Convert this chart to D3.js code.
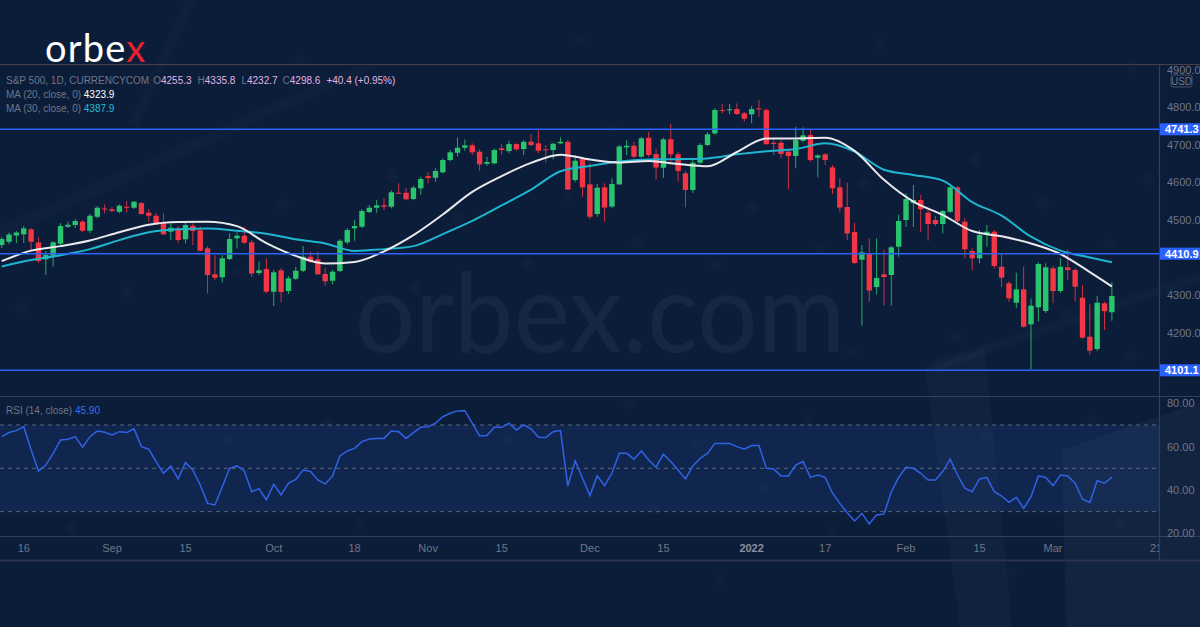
<!DOCTYPE html>
<html><head><meta charset="utf-8">
<script src="https://cdn.jsdelivr.net/npm/d3@7"></script>
<style>
html,body{margin:0;padding:0;background:#0b1d39;overflow:hidden;}
svg{display:block;}
</style></head>
<body><svg id="c" width="1200" height="627"></svg>
<script>
// ---------- DATA ----------
const opens = [4433.9,4442.6,4459.1,4462.3,4475.6,4440.5,4395.9,4405.5,4437.3,4482.5,4487.0,4495.8,4471.9,4509.0,4530.8,4528.7,4522.3,4535.6,4532.9,4545.4,
4519.7,4511.7,4493.1,4469.2,4478.2,4449.0,4485.1,4472.9,4425.1,4356.1,4348.1,4396.7,4451.7,4458.6,4441.1,4359.5,4370.1,4309.8,4366.7,4311.7,
4344.4,4365.6,4402.8,4395.9,4356.9,4339.1,4364.8,4441.1,4478.2,4482.5,4521.5,4532.9,4539.3,4535.6,4572.8,4572.8,4556.1,4584.5,4617.1,4612.6,
4627.0,4659.6,4679.0,4692.3,4698.7,4681.7,4649.8,4650.9,4690.7,4683.5,4702.1,4688.9,4708.2,4704.0,4688.1,4686.2,4704.0,4708.2,4606.5,4662.3,
4595.1,4516.2,4587.1,4536.1,4595.1,4693.4,4697.6,4668.4,4718.9,4675.6,4639.2,4714.9,4674.8,4624.3,4580.0,4652.5,4699.5,4730.6,4792.4,4791.6,
4795.1,4783.7,4781.0,4797.0,4792.4,4705.6,4705.6,4681.7,4670.3,4710.9,4726.0,4665.7,4674.8,4640.2,4587.1,4534.8,4468.4,4394.8,4410.0,4322.3,
4356.1,4354.2,4429.4,4500.3,4545.4,4553.4,4519.7,4500.3,4489.7,4522.3,4587.1,4495.8,4417.9,4398.6,4460.4,4469.2,4376.2,4332.2,4280.6,4316.2,
4223.3,4268.4,4258.6,4372.0,4311.7,4374.7,4367.5,4293.9,4190.3,4157.7,4279.0,4255.3];
const highs = [4455.1,4467.1,4471.1,4484.3,4479.0,4455.1,4417.9,4444.5,4492.3,4495.8,4502.9,4500.3,4516.2,4537.5,4542.0,4534.8,4542.0,4550.7,4550.7,4548.1,
4529.5,4518.1,4518.1,4491.5,4484.3,4492.3,4491.5,4482.5,4431.2,4407.3,4407.3,4465.0,4467.6,4482.5,4447.2,4389.5,4398.6,4367.5,4372.8,4351.5,
4376.2,4431.2,4416.1,4416.1,4373.6,4367.5,4449.8,4479.0,4500.3,4529.5,4540.1,4553.4,4557.9,4579.2,4597.8,4584.5,4590.6,4615.3,4627.0,4637.6,
4664.2,4686.2,4719.9,4714.6,4704.0,4688.1,4668.4,4690.7,4702.1,4710.9,4704.0,4712.8,4728.7,4741.2,4699.5,4705.6,4719.9,4712.8,4672.9,4667.6,
4652.5,4595.9,4597.8,4611.0,4699.5,4712.0,4708.2,4721.5,4734.8,4689.4,4718.9,4755.8,4681.7,4630.4,4659.6,4704.8,4734.0,4797.8,4808.4,4808.4,
4810.2,4787.1,4803.1,4819.0,4797.8,4717.3,4712.8,4686.2,4748.1,4746.5,4739.3,4674.3,4678.2,4646.4,4611.0,4599.3,4493.1,4433.9,4451.7,4451.7,
4420.6,4431.2,4514.4,4571.2,4593.2,4566.7,4526.8,4510.9,4526.8,4590.6,4590.6,4505.6,4425.9,4473.7,4487.0,4473.7,4411.8,4338.3,4360.3,4376.2,
4292.3,4387.9,4385.3,4378.1,4398.6,4422.5,4372.8,4327.6,4277.2,4299.2,4283.3,4335.8];
const lows = [4425.9,4436.5,4439.2,4439.2,4420.6,4386.1,4354.2,4376.2,4433.9,4479.0,4479.0,4468.4,4465.0,4504.8,4518.1,4521.5,4518.1,4520.7,4529.5,4514.9,
4495.8,4487.0,4460.4,4447.2,4438.4,4438.4,4433.9,4417.9,4305.6,4340.9,4334.8,4394.0,4425.1,4436.5,4348.9,4354.2,4305.6,4271.9,4281.7,4303.7,
4340.9,4362.2,4386.1,4354.2,4325.8,4329.5,4362.2,4436.5,4445.3,4479.0,4518.1,4519.7,4526.8,4531.4,4570.1,4553.4,4553.4,4566.7,4597.8,4602.0,
4624.3,4656.2,4668.4,4684.3,4672.9,4631.2,4644.5,4648.2,4672.9,4677.4,4684.3,4672.9,4696.8,4677.4,4653.5,4661.5,4702.1,4580.0,4601.2,4562.2,
4502.1,4509.0,4495.8,4531.4,4593.2,4672.9,4664.2,4664.2,4668.4,4608.4,4612.6,4655.1,4602.5,4534.0,4572.0,4649.0,4696.8,4726.0,4783.7,4781.8,
4779.2,4761.4,4757.1,4774.6,4699.5,4672.9,4664.2,4581.8,4637.6,4706.7,4655.1,4613.7,4646.4,4569.3,4522.3,4447.2,4383.4,4219.5,4283.8,4302.4,
4273.2,4273.2,4402.8,4481.7,4481.7,4469.2,4445.3,4484.3,4465.0,4518.9,4487.0,4398.6,4367.5,4385.3,4429.4,4372.0,4323.1,4283.3,4265.8,4214.8,
4103.7,4230.2,4253.3,4279.0,4306.4,4340.9,4283.3,4185.5,4141.7,4152.3,4208.1,4232.7];
const closes = [4449.8,4461.8,4467.1,4478.2,4442.6,4391.4,4407.3,4441.1,4484.3,4487.8,4497.6,4471.9,4511.7,4532.9,4528.2,4524.2,4538.3,4532.9,4548.9,4516.2,
4511.7,4489.7,4462.3,4479.8,4447.2,4487.0,4471.1,4418.7,4354.2,4347.0,4398.6,4449.8,4458.6,4440.0,4358.2,4366.7,4309.8,4361.4,4309.0,4345.4,
4365.6,4402.8,4389.5,4356.1,4337.5,4363.0,4445.3,4473.7,4484.3,4524.2,4532.9,4539.3,4535.6,4573.9,4571.2,4555.3,4586.1,4609.2,4611.8,4630.4,
4659.6,4680.1,4692.3,4698.7,4680.1,4648.2,4654.3,4686.2,4686.2,4702.1,4688.1,4708.2,4699.5,4684.3,4685.4,4702.9,4708.2,4581.3,4657.8,4587.1,
4509.0,4586.1,4533.5,4595.9,4695.5,4697.6,4668.4,4717.3,4672.9,4639.7,4714.6,4675.0,4630.4,4580.0,4652.5,4699.5,4727.9,4792.4,4789.8,4794.3,
4781.8,4769.3,4795.1,4794.3,4702.1,4702.1,4675.6,4670.3,4712.8,4725.2,4659.6,4672.1,4659.6,4584.5,4533.5,4464.4,4386.1,4414.5,4313.0,4346.2,
4348.9,4427.8,4497.6,4556.1,4553.4,4528.7,4489.7,4489.7,4524.2,4587.1,4497.6,4422.5,4398.6,4460.4,4469.2,4378.1,4347.0,4292.3,4316.2,4216.9,
4272.7,4383.4,4374.7,4311.7,4376.2,4367.5,4323.1,4187.7,4153.1,4280.6,4258.2,4298.6];
const rsi = [64.6,66.5,67.4,69.2,58.5,48.8,51.5,56.9,63.1,63.4,64.6,59.7,64.6,67.2,66.6,65.4,66.9,66.5,68.2,60.0,
58.8,53.1,47.7,51.1,45.1,52.6,49.2,42.3,33.8,33.1,41.5,50.0,51.1,48.8,39.2,40.6,35.4,42.6,37.7,43.1,
44.9,49.2,48.5,44.6,42.8,46.5,55.7,58.0,59.2,62.3,63.5,63.8,63.8,67.2,66.9,63.8,66.5,68.9,69.2,70.8,
73.8,75.4,76.5,76.6,70.8,64.9,65.1,68.9,68.9,70.8,67.7,70.0,68.2,64.3,64.2,66.9,67.4,41.8,53.4,45.4,
37.4,46.5,42.0,47.7,56.9,56.9,54.2,58.0,53.8,50.5,56.5,53.1,49.2,45.1,51.1,54.6,56.9,61.5,61.5,61.5,
60.0,58.8,60.5,60.5,50.0,49.7,46.5,46.5,51.5,53.1,45.8,46.9,45.8,38.5,33.8,29.5,25.7,29.2,24.3,28.5,
28.9,39.2,45.8,50.5,50.0,47.7,44.6,44.6,48.5,54.2,46.9,40.8,39.2,45.1,45.8,39.2,37.2,34.3,36.6,31.5,
36.9,46.5,45.8,42.0,46.9,46.5,43.1,35.7,34.2,44.3,43.1,45.9];
const maIdx = [0,4,8,12,16,20,24,28,32,36,40,44,48,52,56,60,64,68,72,76,80,84,88,92,96,100,104,108,112,116,120,124,128,132,136,140,144,148,151];
const ma20 = [4391,4419,4431,4446,4468,4488,4495,4496,4484,4439,4405,4385,4389,4417,4460,4515,4575,4617,4652,4674,4661,4653,4657,4649,4643,4681,4717,4717,4719,4684,4607,4549,4514,4471,4457,4438,4410,4362,4323.9];
const ma30 = [4377,4394,4407,4423,4447,4468,4476,4478,4472,4464,4449,4438,4418,4423,4431,4463,4498,4539,4581,4630,4644,4656,4661,4662,4664,4675,4683,4689,4704,4682,4634,4620,4605,4548,4512,4456,4419,4401,4387.9];
const levels = [4741.3, 4410.9, 4101.1];
const priceTicks = [4200,4300,4400,4500,4600,4700,4800,4900];
const rsiTicks = [20,40,60,80];
const rsiBand = [70,30];
const rsiDashes = [70,50,30];
const xTickIdx = [3,15,25,37,48,58,68,80,90,102,112,123,133,143,157];
const xTickLabels = ["16","Sep","15","Oct","18","Nov","15","Dec","15","2022","17","Feb","15","Mar","21"];
const header = {sym:"S&P 500, 1D, CURRENCYCOM", o:"4255.3", h:"4335.8", l:"4232.7", c:"4298.6", chg:"+40.4 (+0.95%)"};

// ---------- LAYOUT ----------
const W = 1200, H = 627, paneR = 1159, mainTop = 64, mainBot = 396, rsiBot = 536, axisBot = 560;
const BG = "#0b1d39", UP = "#2bc46e", DN = "#f23645", GRAYTXT = "#6f7689", LINE = "#343e56", PINK = "#e3b3e2";
const FONT = "'Liberation Sans', Arial, sans-serif";

const svg = d3.select("#c");
svg.append("rect").attr("width", W).attr("height", H).attr("fill", BG);

// decorative background shapes
const deco = svg.append("g");
deco.append("polygon").attr("points", "925,368 985,348 1012,627 960,627").attr("fill", "#ffffff").attr("opacity", 0.025);
deco.append("polygon").attr("points", "1062,450 1200,402 1200,627 1066,627").attr("fill", "#ffffff").attr("opacity", 0.03);
deco.append("polygon").attr("points", "930,362 1200,272 1200,282 934,372").attr("fill", "#ffffff").attr("opacity", 0.02);
deco.append("polygon").attr("points", "0,226 360,64 385,64 0,240").attr("fill", "#ffffff").attr("opacity", 0.015);
deco.append("polygon").attr("points", "128,125 186,0 196,0 138,125").attr("fill", "#ffffff").attr("opacity", 0.015);
const diamonds = [[392,177],[458,218],[527,263],[415,288],[568,198],[613,128],[753,207],[715,265],[638,242],[820,248],[863,183],[975,160],[1042,202],[1110,245],[1067,312],[955,337],[850,352],[1130,357],[238,272],[127,293],[22,308],[282,205],[1150,178],[1132,67],[46,420],[226,440],[509,440],[71,528],[360,525],[398,469],[329,423],[629,402],[807,418],[698,443],[765,487],[985,438],[654,510],[832,530],[1120,525],[720,578],[1010,573],[1092,422],[580,40],[300,60],[880,45]];
deco.selectAll("rect.dm").data(diamonds).join("rect").attr("class","dm")
  .attr("x", -5).attr("y", -5).attr("width", 10).attr("height", 10)
  .attr("transform", d => `translate(${d[0]},${d[1]}) rotate(45)`)
  .attr("fill", "#ffffff").attr("opacity", 0.016);

// watermark
svg.append("text").attr("x", 355).attr("y", 352)
  .attr("font-family", "Lato, 'Open Sans', sans-serif").attr("font-size", 110).attr("font-weight", 400)
  .attr("textLength", 490).attr("lengthAdjust", "spacingAndGlyphs").attr("fill", "#ffffff").attr("opacity", 0.045)
  .text("orbex.com");

// logo
const logo = svg.append("text").attr("x", 45).attr("y", 62)
  .attr("font-family", "Lato, 'Open Sans', sans-serif").attr("font-size", 38).attr("font-weight", 400)
  .attr("letter-spacing", 1.2).attr("fill", "#ffffff");
logo.append("tspan").text("orbe");
logo.append("tspan").text("x").attr("fill", "#e8222e");

// ---------- SCALES ----------
const x = d3.scaleLinear().domain([0, 157]).range([1.7, 1156.0]);
const y = d3.scaleLinear().domain([4101.1, 4741.3]).range([370.3, 129.3]);
const yr = d3.scaleLinear().domain([20, 80]).range([533.3, 403.3]);
const bw = 5.4;

// clip paths
const defs = svg.append("defs");
defs.append("clipPath").attr("id", "clipMain").append("rect").attr("x", 0).attr("y", mainTop).attr("width", paneR).attr("height", mainBot - mainTop);
defs.append("clipPath").attr("id", "clipRsi").append("rect").attr("x", 0).attr("y", mainBot).attr("width", paneR).attr("height", rsiBot - mainBot);
defs.append("clipPath").attr("id", "clipAxis").append("rect").attr("x", 0).attr("y", rsiBot).attr("width", paneR).attr("height", axisBot - rsiBot);

// pane borders
svg.append("line").attr("x1", 0).attr("x2", W).attr("y1", mainTop + 0.5).attr("y2", mainTop + 0.5).attr("stroke", "#4a3f44").attr("stroke-width", 1);
svg.append("line").attr("x1", 0).attr("x2", W).attr("y1", mainBot + 0.5).attr("y2", mainBot + 0.5).attr("stroke", LINE).attr("stroke-width", 1.2);
svg.append("line").attr("x1", 0).attr("x2", W).attr("y1", rsiBot + 0.5).attr("y2", rsiBot + 0.5).attr("stroke", LINE).attr("stroke-width", 1.2);
svg.append("line").attr("x1", 0).attr("x2", W).attr("y1", axisBot + 0.5).attr("y2", axisBot + 0.5).attr("stroke", "#2a334a").attr("stroke-width", 2);
svg.append("line").attr("x1", paneR + 0.5).attr("x2", paneR + 0.5).attr("y1", mainTop).attr("y2", axisBot).attr("stroke", LINE).attr("stroke-width", 1.2);

// ---------- MAIN PANE ----------
const main = svg.append("g").attr("clip-path", "url(#clipMain)");
const idx = d3.range(closes.length);

// candles
const cg = main.append("g");
cg.selectAll("line.wick").data(idx).join("line").attr("class", "wick")
  .attr("x1", i => x(i)).attr("x2", i => x(i))
  .attr("y1", i => y(highs[i])).attr("y2", i => y(lows[i]))
  .attr("stroke", i => closes[i] >= opens[i] ? UP : DN).attr("stroke-width", 1).attr("opacity", 0.85);
cg.selectAll("rect.body").data(idx).join("rect").attr("class", "body")
  .attr("x", i => x(i) - bw / 2).attr("width", bw)
  .attr("y", i => y(Math.max(opens[i], closes[i])))
  .attr("height", i => Math.max(1, Math.abs(y(opens[i]) - y(closes[i]))))
  .attr("fill", i => closes[i] >= opens[i] ? UP : DN);

// moving averages
const maLine = arr => d3.line().x((d, k) => x(maIdx[k])).y(d => y(d)).curve(d3.curveMonotoneX)(arr);
main.append("path").attr("d", maLine(ma30)).attr("fill", "none").attr("stroke", "#1fb5cf").attr("stroke-width", 2);
main.append("path").attr("d", maLine(ma20)).attr("fill", "none").attr("stroke", "#e9e9ee").attr("stroke-width", 2);

// horizontal levels
main.selectAll("line.lvl").data(levels).join("line").attr("class", "lvl")
  .attr("x1", 0).attr("x2", paneR).attr("y1", d => y(d)).attr("y2", d => y(d))
  .attr("stroke", "#2962ff").attr("stroke-width", 1.5);

// right price axis (ticks hidden under a level label are skipped, as in the reference)
const visibleTicks = priceTicks.filter(t => levels.every(l => Math.abs(y(t) - y(l)) > 9));
svg.append("g").selectAll("text.pt").data(visibleTicks).join("text").attr("class", "pt")
  .attr("x", 1167).attr("y", d => y(d) + 4).text(d => d3.format(".1f")(d))
  .attr("font-family", FONT).attr("font-size", 11).attr("fill", GRAYTXT);
svg.append("rect").attr("x", paneR + 1).attr("y", 0).attr("width", W - paneR).attr("height", mainTop).attr("fill", BG);
svg.append("line").attr("x1", paneR).attr("x2", W).attr("y1", mainTop + 0.5).attr("y2", mainTop + 0.5).attr("stroke", "#4a3f44");
svg.append("rect").attr("x", 1171).attr("y", 75).attr("width", 21).attr("height", 12).attr("rx", 2)
  .attr("fill", BG).attr("stroke", "#4a5068").attr("stroke-width", 1);
svg.append("text").attr("x", 1181.5).attr("y", 84.5).attr("text-anchor", "middle").text("USD")
  .attr("font-family", FONT).attr("font-size", 10).attr("fill", GRAYTXT);

// level labels
const lg = svg.append("g");
lg.selectAll("rect").data(levels).join("rect")
  .attr("x", paneR + 1).attr("y", d => y(d) - 6).attr("width", W - paneR - 1).attr("height", 12).attr("fill", "#2962ff");
lg.selectAll("text").data(levels).join("text")
  .attr("x", 1165).attr("y", d => y(d) + 4).text(d => d3.format(".1f")(d))
  .attr("font-family", FONT).attr("font-size", 11).attr("font-weight", "bold").attr("fill", "#ffffff");

// header legend: items laid out one after another using their measured widths
const HFS = 10;
const legendItems = [
  {k: "", v: header.sym, vc: GRAYTXT, gap: 4},
  {k: "O", v: header.o, vc: PINK, gap: 6},
  {k: "H", v: header.h, vc: PINK, gap: 6},
  {k: "L", v: header.l, vc: PINK, gap: 5},
  {k: "C", v: header.c, vc: PINK, gap: 6},
  {k: "", v: header.chg, vc: PINK, gap: 0}
];
let cursor = 6;
legendItems.forEach(it => {
  const t = svg.append("text").attr("x", cursor).attr("y", 84).attr("font-family", FONT).attr("font-size", HFS);
  if (it.k) t.append("tspan").text(it.k).attr("fill", GRAYTXT);
  t.append("tspan").text(it.v).attr("fill", it.vc);
  cursor += t.node().getComputedTextLength() + it.gap;
});

const ma1 = svg.append("text").attr("x", 6).attr("y", 98).attr("font-family", FONT).attr("font-size", HFS).attr("fill", GRAYTXT);
ma1.append("tspan").text("MA (20, close, 0)  ");
ma1.append("tspan").text(d3.format(".1f")(ma20[ma20.length - 1])).attr("fill", "#ffffff");
const ma2 = svg.append("text").attr("x", 6).attr("y", 112).attr("font-family", FONT).attr("font-size", HFS).attr("fill", GRAYTXT);
ma2.append("tspan").text("MA (30, close, 0)  ");
ma2.append("tspan").text(d3.format(".1f")(ma30[ma30.length - 1])).attr("fill", "#22bcd6");

// ---------- RSI PANE ----------
const rp = svg.append("g").attr("clip-path", "url(#clipRsi)");
rp.append("rect").attr("x", 0).attr("width", paneR).attr("y", yr(rsiBand[0])).attr("height", yr(rsiBand[1]) - yr(rsiBand[0]))
  .attr("fill", "#2a4a9a").attr("opacity", 0.22);
rp.selectAll("line.dash").data(rsiDashes).join("line").attr("class", "dash")
  .attr("x1", 0).attr("x2", paneR).attr("y1", d => yr(d)).attr("y2", d => yr(d))
  .attr("stroke", "#5d6578").attr("stroke-width", 1).attr("stroke-dasharray", "4,4");
rp.append("path").attr("d", d3.line().x((d, i) => x(i)).y(d => yr(d))(rsi))
  .attr("fill", "none").attr("stroke", "#2f62e6").attr("stroke-width", 1.5);

const rl = svg.append("text").attr("x", 6).attr("y", 414).attr("font-family", FONT).attr("font-size", HFS).attr("fill", GRAYTXT);
rl.append("tspan").text("RSI (14, close)  ");
rl.append("tspan").text(d3.format(".2f")(rsi[rsi.length - 1])).attr("fill", "#3a70f0");

svg.append("g").selectAll("text").data(rsiTicks).join("text")
  .attr("x", 1167).attr("y", d => yr(d) + 4).text(d => d3.format(".2f")(d))
  .attr("font-family", FONT).attr("font-size", 11).attr("fill", GRAYTXT);

// ---------- TIME AXIS ----------
const ta = svg.append("g").attr("clip-path", "url(#clipAxis)");
ta.selectAll("text").data(xTickIdx).join("text")
  .attr("x", d => x(d)).attr("y", 552).attr("text-anchor", "middle")
  .text((d, i) => xTickLabels[i])
  .attr("font-family", FONT).attr("font-size", 11)
  .attr("font-weight", (d, i) => xTickLabels[i] === "2022" ? "bold" : "normal")
  .attr("fill", (d, i) => xTickLabels[i] === "2022" ? "#8a90a0" : GRAYTXT);
</script>
</body></html>
